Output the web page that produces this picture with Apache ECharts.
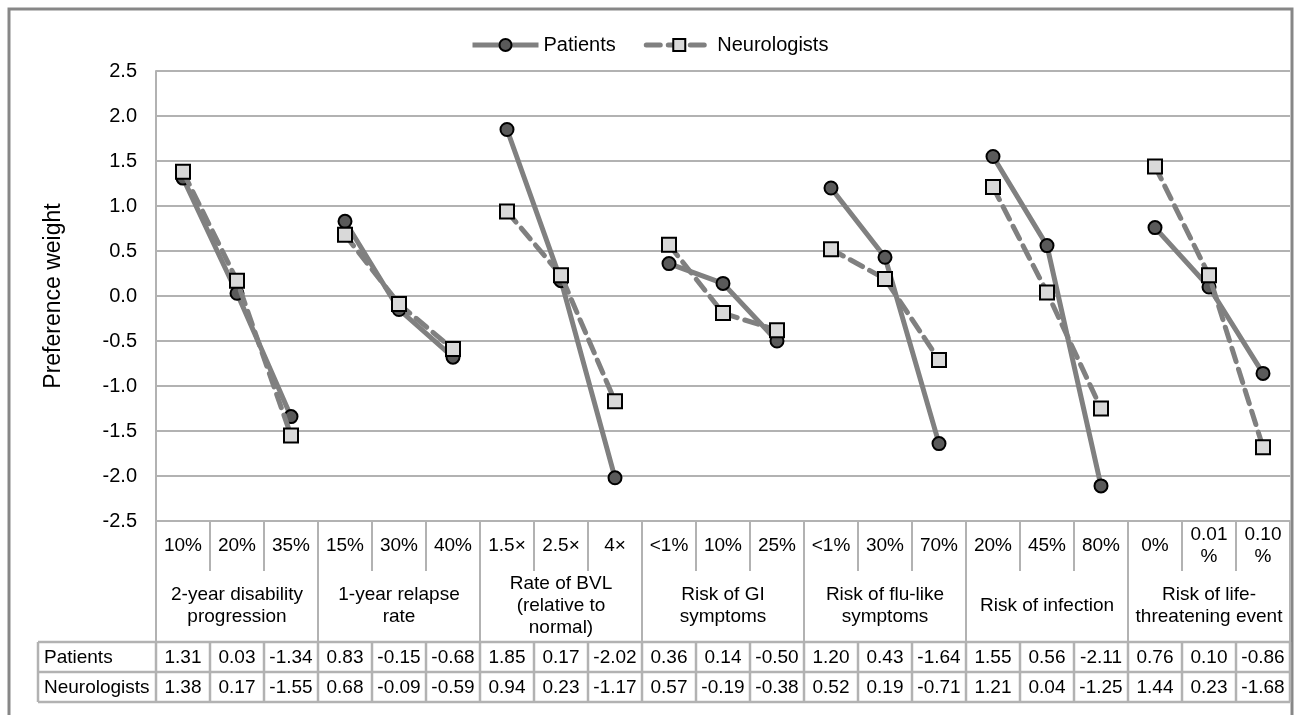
<!DOCTYPE html>
<html>
<head>
<meta charset="utf-8">
<script src="https://cdn.jsdelivr.net/npm/echarts@6/dist/echarts.min.js"></script>
<style>
html,body{margin:0;padding:0;background:#fff;}
#main{width:1294px;height:715px;}
</style>
</head>
<body>
<div id="main"></div>
<script>
const levels = ['10%','20%','35%','15%','30%','40%','1.5×','2.5×','4×','<1%','10%','25%','<1%','30%','70%','20%','45%','80%','0%','0.01\n%','0.10\n%'];
const groups = ['2-year disability\nprogression','1-year relapse\nrate','Rate of BVL\n(relative to\nnormal)','Risk of GI\nsymptoms','Risk of flu-like\nsymptoms','Risk of infection','Risk of life-\nthreatening event'];
const patients = [1.31,0.03,-1.34,0.83,-0.15,-0.68,1.85,0.17,-2.02,0.36,0.14,-0.50,1.20,0.43,-1.64,1.55,0.56,-2.11,0.76,0.10,-0.86];
const neurologists = [1.38,0.17,-1.55,0.68,-0.09,-0.59,0.94,0.23,-1.17,0.57,-0.19,-0.38,0.52,0.19,-0.71,1.21,0.04,-1.25,1.44,0.23,-1.68];
const rowNames = ['Patients','Neurologists'];
const yTicks = {min:-2.5, max:2.5, interval:0.5};

const FONT = '"Liberation Sans", Arial, sans-serif';
const GRID = {left:156, right:4, top:71, bottom:194};
const lineGray = '#808080';
const ruleGray = '#b2b2b2';

const chart = echarts.init(document.getElementById('main'), null, {renderer:'canvas'});

function groupSeries(name, values, opts){
  return groups.map((g, gi) => Object.assign({
    name: name,
    type: 'line',
    xAxisIndex: 0,
    yAxisIndex: 0,
    connectNulls: false,
    data: values.map((v, i) => Math.floor(i/3) === gi ? v : null),
    animation: false
  }, opts));
}

const pSeries = groupSeries('Patients', patients, {
  symbol:'circle', symbolSize:13,
  lineStyle:{color:lineGray, width:5, type:'solid'},
  itemStyle:{color:'#5a5a5a', borderColor:'#000', borderWidth:2},
  z: 3
});
const nSeries = groupSeries('Neurologists', neurologists, {
  symbol:'rect', symbolSize:14,
  lineStyle:{color:lineGray, width:5, type:[14,8], cap:'round'},
  itemStyle:{color:'#d9d9d9', borderColor:'#000', borderWidth:2},
  z: 4
});

chart.setOption({
  backgroundColor:'#fff',
  textStyle:{fontFamily:FONT},
  animation:false,
  grid:GRID,
  legend:{
    data:rowNames,
    left:465, top:30,
    itemWidth:66, itemHeight:15, itemGap:28,
    lineStyle:{width:5, color:lineGray},
    textStyle:{fontSize:20, color:'#000', fontFamily:FONT}
  },
  xAxis:[{
    type:'category', data:levels, boundaryGap:true,
    axisLine:{show:true, onZero:false, lineStyle:{color:ruleGray, width:2}},
    axisTick:{show:true, interval:0, length:50, lineStyle:{color:ruleGray, width:2}},
    axisLabel:{interval:0, fontSize:19, color:'#000', fontFamily:FONT, verticalAlign:'middle', margin:25, lineHeight:22},
    splitLine:{show:false}
  },{
    type:'category', data:groups, boundaryGap:true, position:'bottom', offset:50,
    axisLine:{show:false, onZero:false},
    axisTick:{show:true, interval:0, length:71, lineStyle:{color:ruleGray, width:2}},
    axisLabel:{interval:0, fontSize:19, color:'#000', fontFamily:FONT, verticalAlign:'middle', margin:35, lineHeight:22}
  }],
  yAxis:{
    type:'value', min:yTicks.min, max:yTicks.max, interval:yTicks.interval,
    name:'Preference weight', nameLocation:'middle', nameGap:91,
    nameTextStyle:{fontSize:23, color:'#000', fontFamily:FONT},
    axisLine:{show:true, lineStyle:{color:ruleGray, width:2}},
    axisTick:{show:false},
    axisLabel:{fontSize:20, color:'#000', fontFamily:FONT, margin:19, formatter:v => v.toFixed(1)},
    splitLine:{show:true, lineStyle:{color:ruleGray, width:2}}
  },
  series: pSeries.concat(nSeries)
});

// Data table below the category axes
function buildTable(){
  const x0 = chart.convertToPixel({xAxisIndex:0}, 0);
  const x1 = chart.convertToPixel({xAxisIndex:0}, 1);
  const cw = x1 - x0;
  const left = x0 - cw/2;
  const right = left + cw*levels.length;
  const tableLeft = 38;
  const top = 642, rowH = 30;
  const els = [];
  els.push({type:'rect', shape:{x:9, y:9, width:1283, height:730}, style:{fill:null, stroke:'#878787', lineWidth:3}, silent:true, z:0});
  for (let r = 0; r <= 2; r++) {
    els.push({type:'line', shape:{x1:tableLeft, y1:top + r*rowH, x2:right, y2:top + r*rowH}, style:{stroke:ruleGray, lineWidth:2.5}, silent:true});
  }
  els.push({type:'line', shape:{x1:tableLeft, y1:top, x2:tableLeft, y2:top + 2*rowH}, style:{stroke:ruleGray, lineWidth:2.5}, silent:true});
  for (let c = 0; c <= levels.length; c++) {
    const xx = left + c*cw;
    els.push({type:'line', shape:{x1:xx, y1:top, x2:xx, y2:top + 2*rowH}, style:{stroke:ruleGray, lineWidth:2.5}, silent:true});
  }
  const rows = [patients, neurologists];
  rows.forEach((vals, r) => {
    const cy = top + r*rowH + rowH/2 + 1;
    els.push({type:'text', x:tableLeft + 6, y:cy, style:{text:rowNames[r], font:'19px ' + FONT, fill:'#000', textAlign:'left', textVerticalAlign:'middle'}, silent:true});
    vals.forEach((v, i) => {
      const cx = chart.convertToPixel({xAxisIndex:0}, i);
      els.push({type:'text', x:cx, y:cy, style:{text:v.toFixed(2), font:'19px ' + FONT, fill:'#000', textAlign:'center', textVerticalAlign:'middle'}, silent:true});
    });
  });
  chart.setOption({graphic:{elements:els}});
}
buildTable();
</script>
</body>
</html>
